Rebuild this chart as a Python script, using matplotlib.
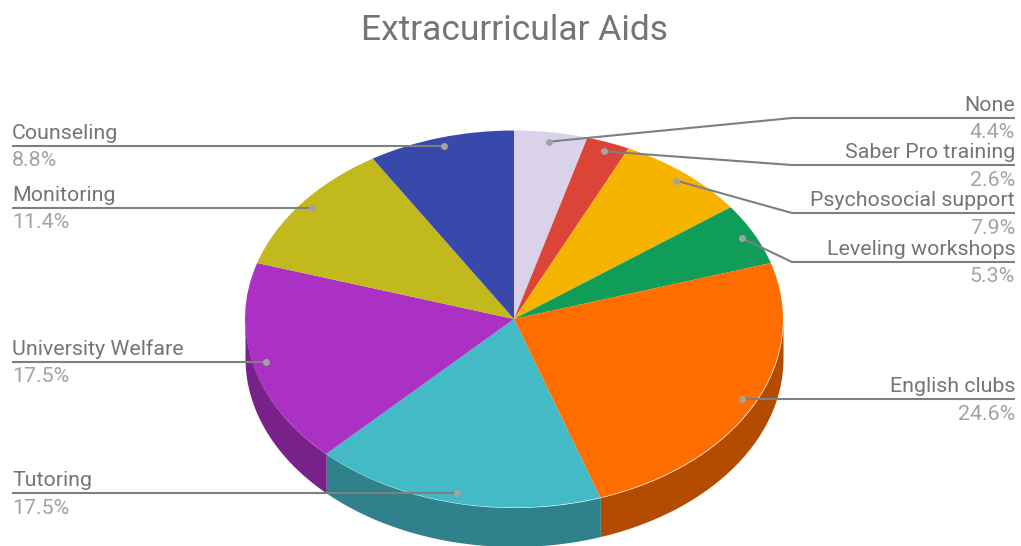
import numpy as np
import matplotlib
matplotlib.use("Agg")
import matplotlib.pyplot as plt

plt.rcParams['font.family'] = ['Roboto', 'DejaVu Sans']

# slices, clockwise from 12 o'clock
labels = ['None', 'Saber Pro training', 'Psychosocial support', 'Leveling workshops',
          'English clubs', 'Tutoring', 'University Welfare', 'Monitoring', 'Counseling']
values = [4.4, 2.6, 7.9, 5.3, 24.6, 17.5, 17.5, 11.4, 8.8]
colors = ['#DAD2E9', '#DB4437', '#F6B400', '#0F9D58', '#FF6D00',
          '#43BAC6', '#AB30C4', '#C2BA1D', '#3949AB']

# layout, in pixels of the 1021x546 picture
W, H = 1021, 546
CX, CY, RX, RY, DEPTH = 514, 319, 269, 188.5, 39
DOT_R = 0.95
# label line: y of the rule, x of the elbow (None = straight)
right_rules = {'None': (118, 792), 'Saber Pro training': (165, 792),
               'Psychosocial support': (213, 792), 'Leveling workshops': (262, 792),
               'English clubs': (399, None)}
left_rules = {'Counseling': 146, 'Monitoring': 208, 'University Welfare': 362, 'Tutoring': 493}

fig = plt.figure(figsize=(W / 100, H / 100), dpi=100, facecolor='white')

# pie axes: one data unit is RX wide and RY high, so the circle turns into the ellipse
ax = fig.add_axes([0, 0, 1, 1])
ax.pie(values, colors=colors, startangle=90, counterclock=False, radius=1,
       wedgeprops={'linewidth': 0, 'zorder': 3})
ax.set_aspect('auto')
ax.set_xlim(-CX / RX, (W - CX) / RX)
ax.set_ylim((CY - H) / RY, CY / RY)
ax.axis('off')

# side wall, only the front half of the rim shows
edges = np.cumsum([0] + values) / 100 * 2 * np.pi
d = DEPTH / RY
for a0, a1, col in zip(edges[:-1], edges[1:], colors):
    lo, hi = max(a0, np.pi / 2), min(a1, 3 * np.pi / 2)
    if hi <= lo:
        continue
    t = np.linspace(lo, hi, 120)
    dark = tuple(0.7 * c for c in matplotlib.colors.to_rgb(col))
    ax.fill_between(np.sin(t), np.cos(t), np.cos(t) - d, color=dark, lw=0, zorder=2)

# overlay in pixel coordinates for leaders and text
ov = fig.add_axes([0, 0, 1, 1])
ov.set_xlim(0, W)
ov.set_ylim(H, 0)
ov.axis('off')
ov.patch.set_alpha(0)

LINE = '#7F7F7F'
NAME = '#757575'
PCT = '#A3A3A3'
FS = 15.4

mids = (edges[:-1] + edges[1:]) / 2
for name, val, mid in zip(labels, values, mids):
    dx = CX + DOT_R * RX * np.sin(mid)
    dy = CY - DOT_R * RY * np.cos(mid)
    if name in right_rules:
        y, elbow = right_rules[name]
        if elbow:
            xs, ys = [dx, elbow, 1015], [dy, y, y]
        else:
            xs, ys = [dx, 1015], [y, y]
            dy = y
        tx, ha = 1015, 'right'
    else:
        y = left_rules[name]
        xs, ys = [dx, 12], [y, y]
        dy = y
        tx, ha = 12, 'left'
    ov.plot(xs, ys, color=LINE, lw=1.5, zorder=5, solid_capstyle='butt')
    ov.plot([dx], [dy], 'o', color='#A3A3A3', ms=5, mew=0, zorder=6)
    ov.text(tx, y - 3, name, color=NAME, fontsize=FS, ha=ha, va='bottom')
    ov.text(tx, y + 5.5, f'{val}%', color=PCT, fontsize=FS, ha=ha, va='top')

ov.text(514, 31, 'Extracurricular Aids', color=NAME, fontsize=25.5, ha='center', va='center')

fig.savefig('out.png', dpi=100)
